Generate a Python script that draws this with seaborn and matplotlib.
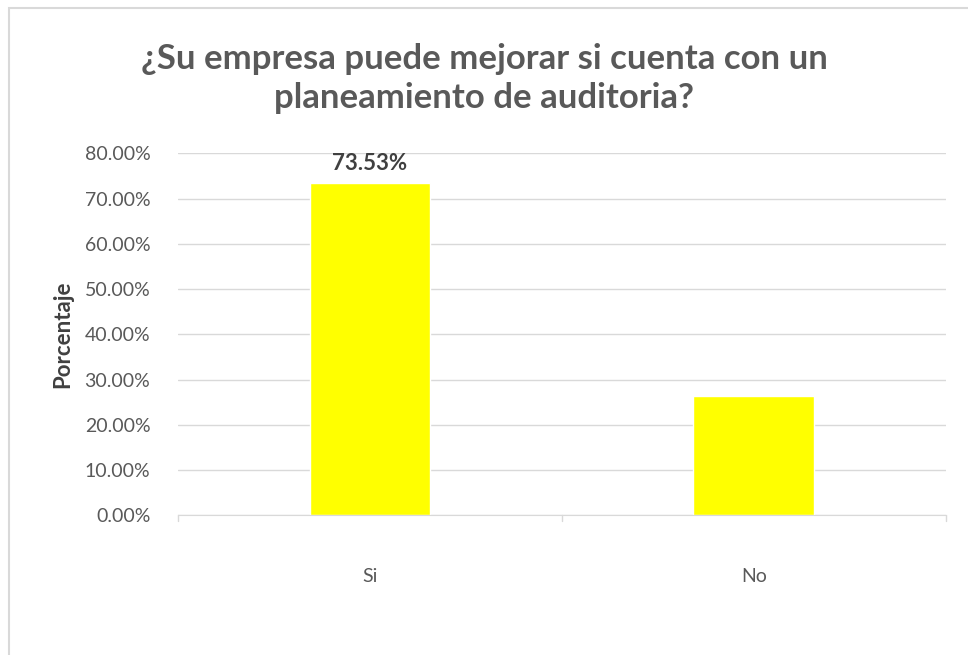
import pandas as pd
import matplotlib.pyplot as plt
import seaborn as sns
from matplotlib.ticker import PercentFormatter, MultipleLocator
from matplotlib.patches import Rectangle

# data
categorias = ["Si", "No"]
porcentajes = [73.53, 26.47]
etiquetas = ["73.53%", ""]

df = pd.DataFrame({"respuesta": categorias, "porcentaje": porcentajes})

sns.set_style("white")
plt.rcParams['font.family'] = ['Lato', 'DejaVu Sans']

fig = plt.figure(figsize=(9.68, 6.55), dpi=100)
ax = fig.add_axes([0.184, 0.213, 0.793, 0.553])

sns.barplot(data=df, x="respuesta", y="porcentaje", color="#FFFF00",
            width=0.315, saturation=1, ax=ax)

ax.set_ylim(0, 80)
ax.yaxis.set_major_locator(MultipleLocator(10))
ax.yaxis.set_major_formatter(PercentFormatter(decimals=2))
ax.grid(axis="y", color="#D9D9D9", linewidth=1)
ax.set_axisbelow(True)
for s in ["top", "right", "left"]:
    ax.spines[s].set_visible(False)
ax.spines["bottom"].set_color("#D9D9D9")
ax.tick_params(axis="y", length=0, labelsize=14, labelcolor="#595959", pad=20)
ax.tick_params(axis="x", length=0, labelsize=14, labelcolor="#595959", pad=38)
ax.set_xlabel("")
ax.set_ylabel("Porcentaje", fontsize=16, fontweight="bold", color="#404040", labelpad=8)

# small category separators on the x axis
for xv in [-0.5, 0.5, 1.5]:
    ax.plot([xv, xv], [0, -1.3], color="#D9D9D9", linewidth=1, clip_on=False)
ax.set_xlim(-0.5, 1.5)

# value labels
for i, txt in enumerate(etiquetas):
    if txt:
        ax.text(i, porcentajes[i] + 1.8, txt, ha="center", va="bottom",
                fontsize=16, fontweight="bold", color="#404040")

fig.suptitle("¿Su empresa puede mejorar si cuenta con un\nplaneamiento de auditoria?",
             y=0.935, fontsize=25, fontweight="bold", color="#595959", linespacing=1.3)

# chart border
fig.patches.append(Rectangle((0.009, -0.01), 1.0, 0.998, transform=fig.transFigure,
                             fill=False, edgecolor="#D9D9D9", linewidth=1.5))

fig.savefig("out.png", dpi=100)
